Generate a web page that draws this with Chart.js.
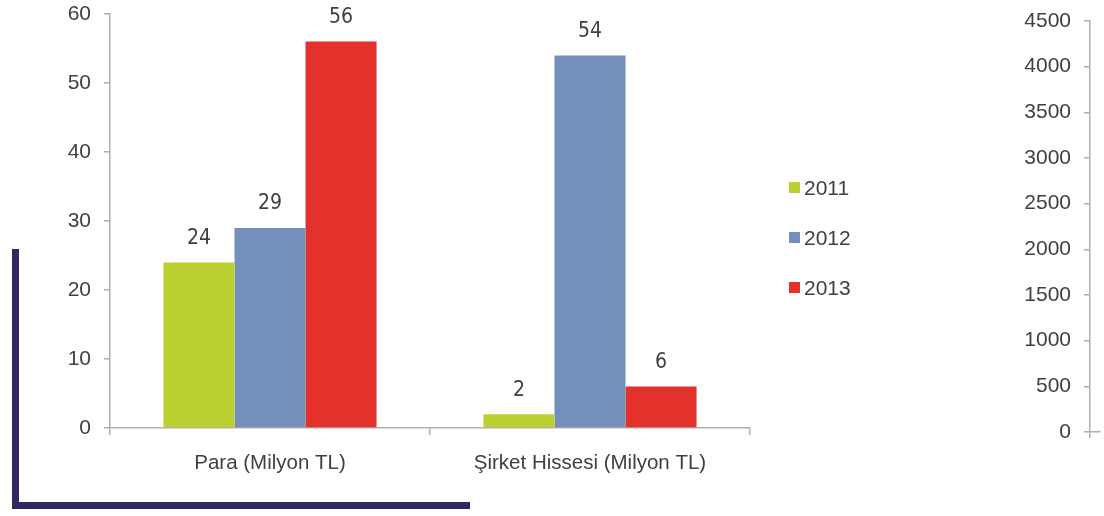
<!DOCTYPE html>
<html>
<head>
<meta charset="utf-8">
<script src="https://cdn.jsdelivr.net/npm/chart.js@4.4.1/dist/chart.umd.min.js"></script>
<style>
  html, body { margin: 0; padding: 0; background: #ffffff; }
  body { width: 1104px; height: 516px; position: relative; overflow: hidden; }
  #mainWrap { position: absolute; left: 0; top: 0; width: 900px; height: 516px; }
  #sideWrap { position: absolute; left: 900px; top: 0; width: 204px; height: 516px; }
  .frame {
    position: absolute; left: 12px; top: 249px; width: 451px; height: 253px;
    border-left: 7px solid #2e2a5f; border-bottom: 7px solid #2e2a5f;
  }
</style>
</head>
<body>
<div class="frame"></div>
<div id="mainWrap"><canvas id="main" width="900" height="516"></canvas></div>
<div id="sideWrap"><canvas id="side" width="204" height="516"></canvas></div>
<script>
// Categories and yearly values
const categories = ['Para (Milyon TL)', 'Şirket Hissesi (Milyon TL)'];
const years = ['2011', '2012', '2013'];
const values2011 = [24, 2];
const values2012 = [29, 54];
const values2013 = [56, 6];
const leftTicks = { min: 0, max: 60, step: 10 };
const rightTicks = { min: 0, max: 4500, step: 500 };

const colors = ['#bdd032', '#748fbb', '#e3312b'];
const axisColor = '#b5ada9';
const textColor = '#404040';
const tickFont = { family: "'Liberation Sans', Arial, sans-serif", size: 21 };
const catFont = { family: "'Liberation Sans', Arial, sans-serif", size: 20.5 };
const valueFont = "21px 'Liberation Sans Narrow', 'DejaVu Sans Condensed', sans-serif";

// Value labels above each bar
const valueLabels = {
  id: 'valueLabels',
  afterDatasetsDraw(chart) {
    const ctx = chart.ctx;
    ctx.save();
    ctx.font = valueFont;
    ctx.fillStyle = textColor;
    ctx.textAlign = 'center';
    ctx.textBaseline = 'middle';
    chart.data.datasets.forEach((ds, di) => {
      const meta = chart.getDatasetMeta(di);
      meta.data.forEach((bar, i) => {
        ctx.fillText(String(ds.data[i]), bar.x, bar.y - 24);
      });
    });
    ctx.restore();
  }
};

// Vertical legend to the right of the plot
const sideLegend = {
  id: 'sideLegend',
  afterDraw(chart) {
    const ctx = chart.ctx;
    const x = chart.chartArea.right + 39;
    const y0 = 188, gap = 50;
    ctx.save();
    ctx.font = "21px 'Liberation Sans', Arial, sans-serif";
    ctx.textBaseline = 'middle';
    ctx.textAlign = 'left';
    chart.data.datasets.forEach((ds, i) => {
      const y = y0 + i * gap;
      ctx.fillStyle = ds.backgroundColor;
      ctx.fillRect(x, y - 6, 11, 11);
      ctx.fillStyle = textColor;
      ctx.fillText(ds.label, x + 15, y + 1);
    });
    ctx.restore();
  }
};

new Chart(document.getElementById('main'), {
  type: 'bar',
  data: {
    labels: categories,
    datasets: [
      { label: years[0], data: values2011, backgroundColor: colors[0] },
      { label: years[1], data: values2012, backgroundColor: colors[1] },
      { label: years[2], data: values2013, backgroundColor: colors[2] }
    ]
  },
  options: {
    responsive: false,
    animation: false,
    categoryPercentage: 0.666,
    barPercentage: 1.0,
    layout: { padding: { left: 0, top: 14, right: 150, bottom: 0 } },
    plugins: { legend: { display: false }, tooltip: { enabled: false } },
    scales: {
      x: {
        grid: { drawOnChartArea: false, drawTicks: true, tickLength: 7, color: axisColor, lineWidth: 1.5, offset: true },
        border: { color: axisColor, width: 1.5 },
        ticks: { font: catFont, color: textColor, padding: 16 },
        afterFit(scale) { scale.height = 88; }
      },
      y: {
        min: leftTicks.min,
        max: leftTicks.max,
        grid: { drawOnChartArea: false, drawTicks: true, tickLength: 6, color: axisColor, lineWidth: 1.5 },
        border: { color: axisColor, width: 1.5 },
        ticks: { stepSize: leftTicks.step, font: tickFont, color: textColor, padding: 13 },
        afterFit(scale) { scale.width = 110; scale.paddingTop = 0; scale.paddingBottom = 0; }
      }
    }
  },
  plugins: [valueLabels, sideLegend]
});

// Secondary value axis drawn as its own narrow chart
new Chart(document.getElementById('side'), {
  type: 'bar',
  data: { labels: [''], datasets: [{ data: [null] }] },
  options: {
    responsive: false,
    animation: false,
    layout: { padding: { left: 0, top: 21, right: 4, bottom: 0 } },
    plugins: { legend: { display: false }, tooltip: { enabled: false } },
    scales: {
      x: {
        grid: {
          drawOnChartArea: false, drawTicks: true, tickLength: 6, lineWidth: 1.5, offset: true,
          color: (c) => (c.index === 0 ? axisColor : 'rgba(0,0,0,0)')
        },
        border: { color: axisColor, width: 1.5 },
        ticks: { display: false },
        afterFit(scale) { scale.height = 84; }
      },
      y: {
        position: 'left',
        min: rightTicks.min,
        max: rightTicks.max,
        grid: { drawOnChartArea: false, drawTicks: true, tickLength: 6, color: axisColor, lineWidth: 1.5 },
        border: { color: axisColor, width: 1.5 },
        ticks: {
          stepSize: rightTicks.step, font: tickFont, color: textColor, padding: 13,
          callback: (v) => String(v)
        },
        afterFit(scale) { scale.width = 190; scale.paddingTop = 0; scale.paddingBottom = 0; }
      }
    }
  }
});
</script>
</body>
</html>
